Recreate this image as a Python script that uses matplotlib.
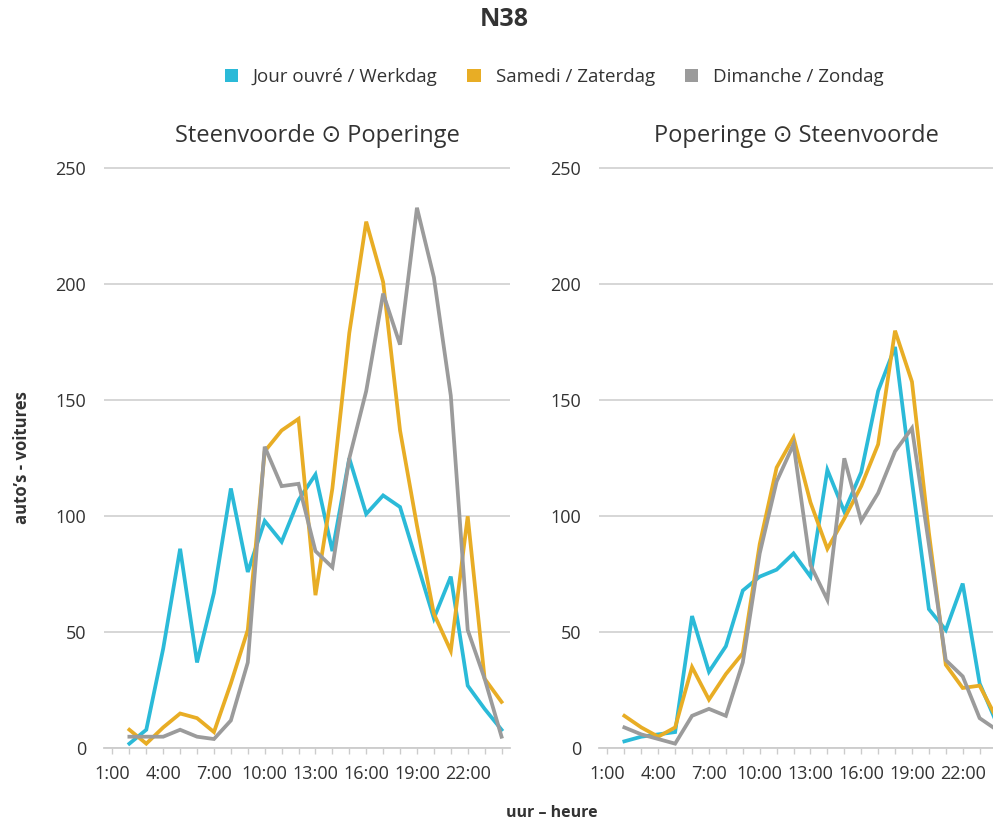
import matplotlib
matplotlib.use("Agg")
import matplotlib.pyplot as plt
from matplotlib.patches import Patch

plt.rcParams['font.family'] = ['Open Sans', 'DejaVu Sans']

# heures (2:00 .. 24:00)
heures = list(range(2, 25))
tick_heures = list(range(1, 25))
tick_labels = [f"{h}:00" if (h - 1) % 3 == 0 else "" for h in tick_heures]

# Steenvoorde -> Poperinge
werkdag_sp = [2, 8, 43, 86, 37, 67, 112, 76, 98, 89, 107, 118, 85, 125, 101, 109, 104, 80, 56, 74, 27, 17, 8]
zaterdag_sp = [8, 2, 9, 15, 13, 7, 28, 51, 128, 137, 142, 66, 112, 179, 227, 201, 137, 96, 58, 42, 100, 30, 20]
zondag_sp = [5, 5, 5, 8, 5, 4, 12, 37, 130, 113, 114, 85, 78, 125, 154, 196, 174, 233, 203, 152, 51, 30, 5]

# Poperinge -> Steenvoorde
werkdag_ps = [3, 5, 6, 7, 57, 33, 44, 68, 74, 77, 84, 74, 120, 102, 119, 154, 173, 115, 60, 51, 71, 28, 11]
zaterdag_ps = [14, 9, 5, 9, 35, 21, 32, 41, 88, 121, 134, 106, 86, 99, 113, 131, 180, 158, 93, 36, 26, 27, 13]
zondag_ps = [9, 6, 4, 2, 14, 17, 14, 37, 84, 115, 131, 79, 64, 125, 98, 110, 128, 138, 88, 38, 31, 13, 8]

noms = ["Jour ouvré / Werkdag", "Samedi / Zaterdag", "Dimanche / Zondag"]
couleurs = ["#2bbad8", "#e8ad25", "#9b9b9b"]
titres = ["Steenvoorde \u2299 Poperinge", "Poperinge \u2299 Steenvoorde"]

W, H = 993, 823
fig = plt.figure(figsize=(W / 100, H / 100), dpi=100)

def px(x, y):
    return x / W, 1 - y / H

y_bas = 748.3
y_haut = 748.3 - 2.32 * 252
largeur = 406
positions = [104, 599]
centres_titre = [317, 796]

series = [(werkdag_sp, zaterdag_sp, zondag_sp), (werkdag_ps, zaterdag_ps, zondag_ps)]

for i, (x0, data) in enumerate(zip(positions, series)):
    ax = fig.add_axes([x0 / W, 1 - y_bas / H, largeur / W, (y_bas - y_haut) / H])
    for valeurs, c in zip(data, couleurs):
        ax.plot(heures, valeurs, color=c, lw=2.7, solid_joinstyle='miter', zorder=3)
    ax.set_xlim(0.5, 24.5)
    ax.set_ylim(0, 252)
    ax.set_yticks([0, 50, 100, 150, 200, 250])
    ax.set_xticks(tick_heures)
    ax.set_xticklabels(tick_labels)
    ax.grid(axis='y', color='#d3d3d3', lw=1.3, zorder=0)
    for s in ['left', 'right', 'top']:
        ax.spines[s].set_visible(False)
    ax.spines['bottom'].set_color('#cccccc')
    ax.spines['bottom'].set_linewidth(1.3)
    ax.tick_params(axis='y', length=0, pad=13, labelsize=13, labelcolor='#333333')
    ax.tick_params(axis='x', length=4, width=1, color='#cccccc', pad=8, labelsize=13, labelcolor='#333333')
    fig.text(*px(centres_titre[i], 136), titres[i], ha='center', va='center', fontsize=17, color='#333333')

fig.text(*px(504, 20), "N38", ha='center', va='center', fontsize=18, fontweight='bold', color='#333333')

handles = [Patch(facecolor=c, edgecolor='none') for c in couleurs]
fig.legend(handles, noms, loc='center', bbox_to_anchor=px(554, 77), ncol=3, frameon=False,
           fontsize=13.5, handlelength=0.7, handleheight=0.7, handletextpad=0.8, columnspacing=1.6,
           labelcolor='#333333')

fig.text(*px(22, 458), "auto\u2019s - voitures", rotation=90, ha='center', va='center',
         fontsize=12, fontweight='bold', color='#333333')
fig.text(*px(552, 821), "uur \u2013 heure", ha='center', va='bottom', fontsize=11.5, fontweight='bold', color='#333333')

fig.savefig("out.png", dpi=100)
